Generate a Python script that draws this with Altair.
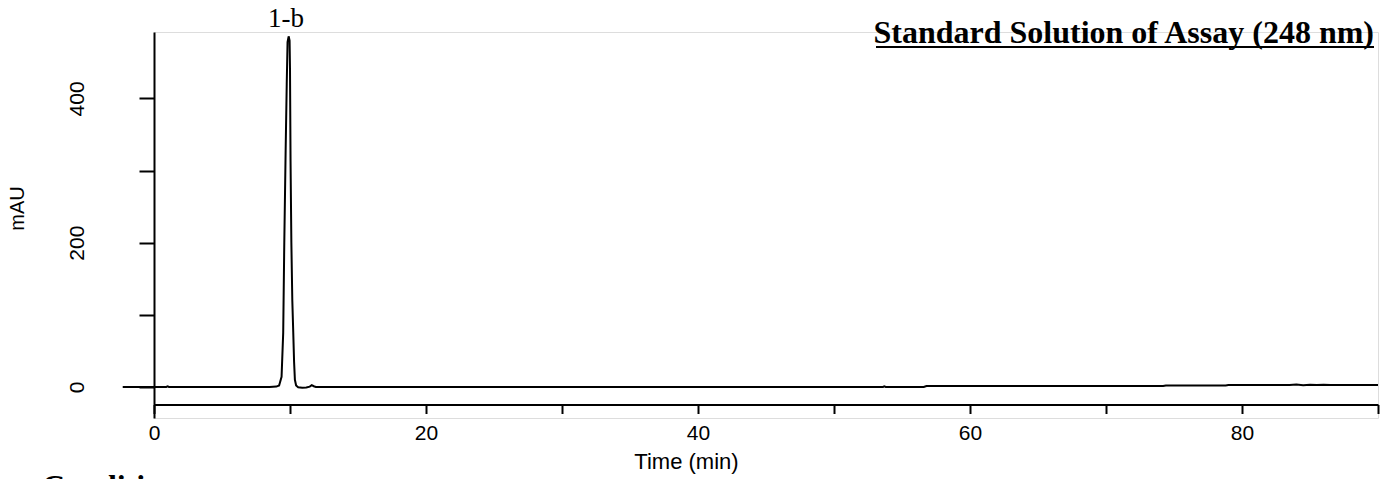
import altair as alt
import pandas as pd

# Chromatogram trace (time in min, signal in mAU)
time_min = [-2.3, 0.0, 0.9, 1.0, 1.1, 5.0, 8.5, 9.0, 9.2, 9.38, 9.5, 9.58, 9.68, 9.76, 9.82,
            9.9, 9.97, 10.0, 10.04, 10.1, 10.17, 10.24, 10.3, 10.36, 10.45, 10.6, 10.9, 11.2,
            11.45, 11.6, 11.75, 11.9, 12.5, 20, 30, 40, 53.6, 53.7, 53.8, 56.6, 56.8, 65,
            74.2, 74.4, 78.8, 79.0, 83.5, 84.0, 84.5, 85.0, 85.5, 86.0, 86.5, 90.0]
signal_mau = [0, 0, 0, 0.8, 0, 0, 0, 0.5, 2, 14, 75, 200, 328, 420, 478,
              486, 480, 440, 314, 200, 120, 75, 35, 10, 2, -0.5, -1, -0.8,
              0.5, 2.5, 1, 0, 0, 0, 0, 0, 0, 0.8, 0, 0, 1.3, 1.3,
              1.3, 2, 2, 2.7, 2.7, 3.3, 2.5, 3.2, 2.6, 3.1, 2.7, 2.7]

x_ticks = [0, 10, 20, 30, 40, 50, 60, 70, 80, 90]
y_ticks = [0, 100, 200, 300, 400]

peak_label = ["1-b"]
peak_time = [9.7]
title_text = "Standard Solution of Assay (248 nm)"
conditions_text = "Conditions:"

df = pd.DataFrame({"t": time_min, "v": signal_mau})

W, H = 1224, 386

x_scale = alt.Scale(domain=[0, 90], nice=False, zero=False)
y_scale = alt.Scale(domain=[-43, 492], nice=False, zero=False)

x_axis = alt.Axis(
    values=x_ticks, labelExpr="datum.value % 20 == 0 ? datum.label : ''",
    title="Time (min)", grid=False, offset=-13.5,
    domainColor="black", domainWidth=2, tickColor="black", tickWidth=2, tickSize=9,
    labelFont="Liberation Sans", labelFontSize=21, labelColor="black", labelPadding=9,
    labelFlush=False,
    titleFont="Liberation Sans", titleFontSize=22, titleFontWeight="normal", titleColor="black",
    titleX=532, titleY=64, titleBaseline="alphabetic", titleAnchor="start", titleAlign="center",
)
y_axis = alt.Axis(
    values=y_ticks, labelExpr="datum.value % 200 == 0 ? datum.label : ''",
    title="mAU", grid=False,
    domainColor="black", domainWidth=2, tickColor="black", tickWidth=2, tickSize=15,
    labelFont="Liberation Sans", labelFontSize=21, labelColor="black", labelPadding=56,
    labelAngle=270, labelAlign="center", labelBaseline="alphabetic",
    titleFont="Liberation Sans", titleFontSize=20, titleFontWeight="normal", titleColor="black",
    titleAngle=270, titleX=-131, titleY=176, titleAlign="center", titleBaseline="alphabetic",
)

line = alt.Chart(df).mark_line(color="black", strokeWidth=2).encode(
    x=alt.X("t:Q", scale=x_scale, axis=x_axis),
    y=alt.Y("v:Q", scale=y_scale, axis=y_axis),
)

label_df = pd.DataFrame({"t": peak_time, "lab": peak_label})
peak_text = alt.Chart(label_df).mark_text(
    font="Liberation Serif", fontSize=27, color="black", align="center", baseline="alphabetic"
).encode(x=alt.X("t:Q", scale=x_scale), y=alt.value(-5), text="lab:N")

title = alt.Chart(pd.DataFrame({"s": [title_text]})).mark_text(
    font="Liberation Serif", fontSize=32, fontWeight="bold", color="black",
    align="right", baseline="alphabetic"
).encode(x=alt.value(1220), y=alt.value(11), text="s:N")

underline = alt.Chart(pd.DataFrame({"a": [0]})).mark_rule(color="black", strokeWidth=2).encode(
    x=alt.value(722), x2=alt.value(1220), y=alt.value(15)
)

cond = alt.Chart(pd.DataFrame({"s": [conditions_text]})).mark_text(
    font="Liberation Serif", fontSize=32, fontWeight="bold", color="black",
    align="left", baseline="alphabetic"
).encode(x=alt.value(-112), y=alt.value(465), text="s:N")

chart = alt.layer(line, peak_text, title, underline, cond).properties(
    width=W, height=H,
    autosize=alt.AutoSizeParams(type="none"),
    padding={"left": 146, "top": 24, "right": 8, "bottom": 80},
).configure_view(stroke=None).configure(background="white")

chart.save("out.html", embed_options={"renderer": "svg", "actions": False})
